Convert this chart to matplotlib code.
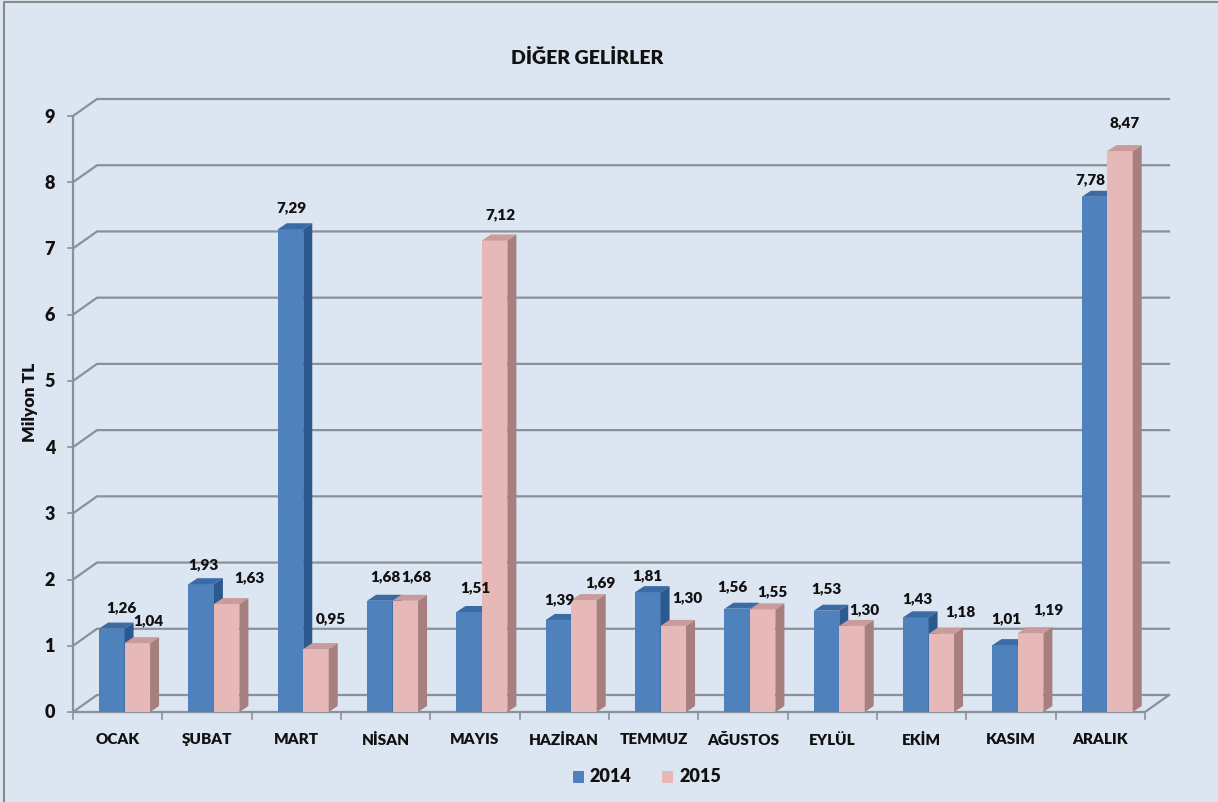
import matplotlib
matplotlib.use("Agg")
import matplotlib.pyplot as plt
from matplotlib.patches import Polygon, Rectangle
from matplotlib.lines import Line2D

plt.rcParams['font.family'] = ['Lato', 'DejaVu Sans']

# ---- data ----
categories = ["OCAK", "ŞUBAT", "MART", "NİSAN", "MAYIS", "HAZİRAN",
              "TEMMUZ", "AĞUSTOS", "EYLÜL", "EKİM", "KASIM", "ARALIK"]
values_2014 = [1.26, 1.93, 7.29, 1.68, 1.51, 1.39, 1.81, 1.56, 1.53, 1.43, 1.01, 7.78]
values_2015 = [1.04, 1.63, 0.95, 1.68, 7.12, 1.69, 1.30, 1.55, 1.30, 1.18, 1.19, 8.47]
series_names = ["2014", "2015"]
y_ticks = list(range(0, 10))
title = "DİĞER GELİRLER"
y_label = "Milyon TL"

# ---- style: data-label nudges in pixels (dx, dy) as placed by the original ----
label_nudge_2014 = [(5, 16), (-2, 14), (-4, 16), (1, 19), (2, 19), (-4, 15),
                    (-5, 11), (-9, 17), (-5, 17), (-3, 14), (-3, 21), (-9, 12)]
label_nudge_2015 = [(7, 17), (18, 21), (10, 25), (7, 19), (1, 21), (12, 12),
                    (10, 23), (5, 13), (8, 11), (15, 17), (13, 18), (0, 23)]

BG = "#DCE6F2"
GRID = "#8A9098"
TXT = "#111111"
FW = "heavy"
blue = dict(face="#4F81BD", side="#2C5A8F", top="#3A6BA5")
pink = dict(face="#E6B9B8", side="#A67F7E", top="#C99C9B")

W, H = 1218, 803
fig = plt.figure(figsize=(W / 100, H / 100), dpi=100)
fig.patch.set_facecolor(BG)

x0p, x1p, y0p, y1p = 73, 1145, 713, 117
ax = fig.add_axes([x0p / W, (H - y0p) / H, (x1p - x0p) / W, (y0p - y1p) / H])
ax.set_xlim(-0.5, len(categories) - 0.5)
ax.set_ylim(0, 9)
ax.axis("off")
ax.patch.set_alpha(0)

pxx = len(categories) / (x1p - x0p)   # data per pixel in x
pxy = 9 / (y0p - y1p)                 # data per pixel in y
BX, BY = 24 * pxx, 17 * pxy           # back-wall offset
DX, DY = 9 * pxx, 6 * pxy             # bar depth offset

xl, xr = -0.5, len(categories) - 0.5
for v in y_ticks:
    ax.add_line(Line2D([xl, xl + BX, xr + BX], [v, v + BY, v + BY],
                       color=GRID, lw=1.6, clip_on=False, zorder=1))
    ax.add_line(Line2D([xl - 5 * pxx, xl], [v, v], color=GRID, lw=1.2,
                       clip_on=False, zorder=1))
ax.add_line(Line2D([xl, xl], [0, 9], color=GRID, lw=1.6, clip_on=False, zorder=1))
ax.add_line(Line2D([xl, xr, xr + BX], [0, 0, BY], color=GRID, lw=1.6,
                   clip_on=False, zorder=1))
for k in range(len(categories) + 1):
    ax.add_line(Line2D([xl + k, xl + k], [0, -7 * pxy], color=GRID, lw=1.2,
                       clip_on=False, zorder=1))

bw = 0.285
offsets = [-0.065, 0.22]


def bar3d(xc, v, col, z):
    l, r = xc - bw / 2, xc + bw / 2
    ax.add_patch(Rectangle((l, 0), bw, v, facecolor=col["face"], edgecolor="none", zorder=z))
    ax.add_patch(Polygon([(r, 0), (r + DX, DY), (r + DX, v + DY), (r, v)],
                         closed=True, facecolor=col["side"], edgecolor="none", zorder=z))
    ax.add_patch(Polygon([(l, v), (l + DX, v + DY), (r + DX, v + DY), (r, v)],
                         closed=True, facecolor=col["top"], edgecolor="none", zorder=z))


series = [(values_2014, blue, label_nudge_2014), (values_2015, pink, label_nudge_2015)]
for i, cat in enumerate(categories):
    for s, (vals, col, nudge) in enumerate(series):
        xc = i + offsets[s]
        bar3d(xc, vals[i], col, 3 + s)
        ax.annotate(f"{vals[i]:.2f}".replace(".", ","),
                    xy=(xc + DX / 2, vals[i] + DY), xytext=nudge[i],
                    textcoords="offset pixels", ha="center", va="center",
                    fontsize=11, fontweight=FW, color=TXT, zorder=6,
                    annotation_clip=False)
    ax.text(i, -27 * pxy, cat, ha="center", va="center", fontsize=11,
            fontweight=FW, color=TXT)

for v in y_ticks:
    ax.text(xl - 18 * pxx, v, str(v), ha="right", va="center", fontsize=13,
            fontweight=FW, color=TXT)

fig.text(30 / W, 1 - 402 / H, y_label, rotation=90, ha="center", va="center",
         fontsize=12.5, fontweight=FW, color=TXT)
fig.text(587 / W, 1 - 58 / H, title, ha="center", va="center", fontsize=14,
         fontweight=FW, color=TXT)

# legend
leg_items = [(573, blue["face"], 590, series_names[0]), (662, pink["face"], 680, series_names[1])]
for sx, c, tx, lab in leg_items:
    fig.patches.append(Rectangle((sx / W, 1 - 784 / H), 11 / W, 12 / H, transform=fig.transFigure,
                                 facecolor=c, edgecolor="none"))
    fig.text(tx / W, 1 - 777 / H, lab, ha="left", va="center", fontsize=13,
             fontweight=FW, color=TXT)

fig.add_artist(Line2D([4 / W, 4 / W, 1], [0, 1 - 3 / H, 1 - 3 / H], transform=fig.transFigure,
                      color="#8A8A8A", lw=1.5))

fig.savefig("out.png", dpi=100, facecolor=BG)
